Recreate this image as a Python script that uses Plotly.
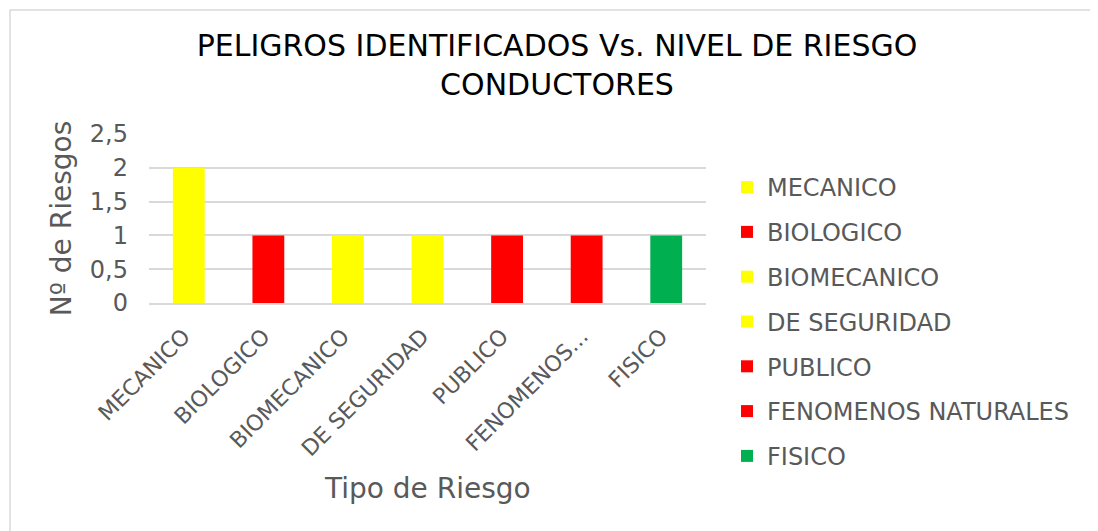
import plotly.graph_objects as go

categories = ["MECANICO", "BIOLOGICO", "BIOMECANICO", "DE SEGURIDAD",
              "PUBLICO", "FENOMENOS NATURALES", "FISICO"]
values = [2, 1, 1, 1, 1, 1, 1]
tick_labels = ["MECANICO", "BIOLOGICO", "BIOMECANICO", "DE SEGURIDAD",
               "PUBLICO", "FENOMENOS...", "FISICO"]
y_ticks = [0, 0.5, 1, 1.5, 2, 2.5]

bar_colors = ["#FFFF00", "#FF0000", "#FFFF00", "#FFFF00",
              "#FF0000", "#FF0000", "#00B050"]

# page has an 8px body margin, so the figure is sized to fit the window
W, H = 1090, 523
L, R, T, B = 141, 392, 126, 228
PW, PH = W - L - R, H - T - B

fig = go.Figure()
for i, (cat, val) in enumerate(zip(categories, values)):
    fig.add_trace(go.Bar(
        x=[cat], y=[val], name=cat, width=0.4,
        marker=dict(color=bar_colors[i], line=dict(width=0)),
        legendgroup=f"g{i}",
    ))

grid = "#D9D9D9"
txt = "#595959"
font_main = "DejaVu Sans, Verdana, sans-serif"

fig.update_layout(
    width=W, height=H,
    margin=dict(l=L, r=R, t=T, b=B, autoexpand=False),
    paper_bgcolor="white", plot_bgcolor="white",
    barmode="overlay",
    separators=", ",
    font=dict(family=font_main, color=txt),
    title=dict(
        text="PELIGROS IDENTIFICADOS Vs. NIVEL DE RIESGO<br>CONDUCTORES",
        x=549 / W, xref="container", xanchor="center",
        y=1 - 48 / H, yref="container", yanchor="top",
        font=dict(family=font_main, size=30, color="black"),
    ),
    xaxis=dict(
        categoryorder="array", categoryarray=categories,
        tickvals=categories, ticktext=tick_labels,
        tickangle=-45, tickfont=dict(size=22, color=txt),
        showgrid=False, showline=True, linecolor=grid, linewidth=1.5,
        ticks="", automargin=False, ticklabelstandoff=10, ticklabelshift=-5,
    ),
    yaxis=dict(
        range=[0, 2.5], tickvals=y_ticks,
        tickfont=dict(size=24, color=txt),
        showgrid=True, gridcolor=grid, gridwidth=1.5,
        zeroline=False, showline=False, ticks="",
        ticklabelstandoff=20, automargin=False,
        title=dict(text="Nº de Riesgos", font=dict(size=28, color=txt), standoff=10),
    ),
    legend=dict(
        xref="container", yref="container",
        x=719 / W, xanchor="left",
        y=1 - 157 / H, yanchor="top",
        font=dict(size=24, color=txt),
        tracegroupgap=10.6, itemwidth=30, maxheight=420,
        bgcolor="rgba(0,0,0,0)",
    ),
    annotations=[dict(
        text="Tipo de Riesgo", xref="paper", yref="paper",
        x=0.5, y=(T + PH - 480) / PH, xanchor="center", yanchor="middle",
        showarrow=False, font=dict(size=28, color=txt),
    )],
    shapes=[dict(
        type="rect", xref="paper", yref="paper",
        x0=(2 - L) / PW, x1=(W + 5 - L) / PW,
        y0=(T + PH - (H + 5)) / PH,
        y1=(T + PH - 2) / PH,
        line=dict(color=grid, width=1.5), layer="below",
    )],
)

fig.write_html("out.html")
